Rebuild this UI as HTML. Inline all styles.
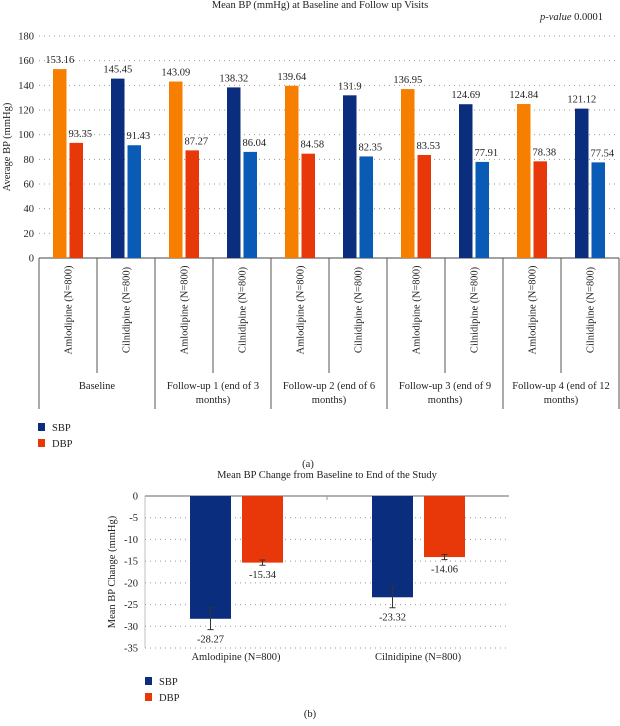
<!DOCTYPE html>
<html><head><meta charset="utf-8">
<style>
html,body{margin:0;padding:0;background:#fff;}
body{width:620px;height:721px;overflow:hidden;font-family:"Liberation Serif",serif;}
svg text{font-family:"Liberation Serif",serif;fill:#222;}
</style></head>
<body>
<svg id="chart" width="620" height="721" viewBox="0 0 620 721" xmlns="http://www.w3.org/2000/svg">
<text x="320" y="8" font-size="10.5" text-anchor="middle">Mean BP (mmHg) at Baseline and Follow up Visits</text>
<text x="540" y="20" font-size="10.5"><tspan font-style="italic">p-value</tspan> 0.0001</text>
<g id="ga"></g>
<g id="gb"></g>
<text x="308" y="467" font-size="10.5" text-anchor="middle">(a)</text>
<text x="310" y="717" font-size="10.5" text-anchor="middle">(b)</text>
</svg>
<script>
// ---- Chart A data ----
const visits = ["Baseline", "Follow-up 1 (end of 3|months)", "Follow-up 2 (end of 6|months)", "Follow-up 3 (end of 9|months)", "Follow-up 4 (end of 12|months)"];
const drugs = ["Amlodipine (N=800)", "Cilnidipine (N=800)"];
const amloSBP = [153.16, 143.09, 139.64, 136.95, 124.84];
const amloDBP = [93.35, 87.27, 84.58, 83.53, 78.38];
const cilSBP = [145.45, 138.32, 131.9, 124.69, 121.12];
const cilDBP = [91.43, 86.04, 82.35, 77.91, 77.54];
const yTicksA = [0, 20, 40, 60, 80, 100, 120, 140, 160, 180];
// ---- Chart B data ----
const bCats = ["Amlodipine (N=800)", "Cilnidipine (N=800)"];
const bSBP = [-28.27, -23.32];
const bDBP = [-15.34, -14.06];
const bSBPerr = [2.5, 2.4];
const bDBPerr = [0.6, 0.6];
const yTicksB = [0, -5, -10, -15, -20, -25, -30, -35];

const NS = "http://www.w3.org/2000/svg";
function mk(parent, tag, attrs, txt) {
  const e = document.createElementNS(NS, tag);
  for (const k in attrs) e.setAttribute(k, attrs[k]);
  if (txt !== undefined) e.textContent = txt;
  parent.appendChild(e);
  return e;
}
const ga = document.getElementById("ga");
const gb = document.getElementById("gb");

const aLeft = 39, aRight = 619, aTop = 36, aBottom = 258;
const yA = v => aBottom - (v - 0) / 180 * (aBottom - aTop);
const groupW = (aRight - aLeft) / visits.length;
const subW = groupW / 2;

yTicksA.forEach(t => {
  if (t > 0) {
    const gl = mk(ga, "line", {x1: aLeft, x2: aRight, y1: yA(t), y2: yA(t), stroke: "#999", "stroke-width": 1, "stroke-dasharray": "1 4"});
    
    
  }
  const tl = mk(ga, "text", {x: aLeft - 5, y: yA(t) + 3.5, "font-size": 10.5, "text-anchor": "end"}, String(t));
  
  
});
const ax = mk(ga, "line", {x1: aLeft, x2: aRight, y1: aBottom, y2: aBottom, stroke: "#444", "stroke-width": 1});


const ya = mk(ga, "text", {x: 0, y: 0, "font-size": 10.5, "text-anchor": "middle", transform: "translate(10," + ((aTop + aBottom) / 2) + ") rotate(-90)"}, "Average BP (mmHg)");



const colors = [["#f77f00", "#e8380a"], ["#0b2d7d", "#0a5bb5"]];
const series = [[amloSBP, amloDBP], [cilSBP, cilDBP]];
const bw = 13.5;
visits.forEach((v, i) => {
  const gx = aLeft + i * groupW;
  const gd = mk(ga, "line", {x1: gx, x2: gx, y1: aBottom, y2: 409, stroke: "#555", "stroke-width": 1});
  
  
  const sd = mk(ga, "line", {x1: gx + subW, x2: gx + subW, y1: aBottom, y2: 373, stroke: "#555", "stroke-width": 1});
  
  
  const lines = v.split("|");
  lines.forEach((ln, k) => {
    const gt = mk(ga, "text", {x: gx + groupW / 2, y: 389 + k * 14, "font-size": 10.5, "text-anchor": "middle"}, ln);
    
    
  });
  drugs.forEach((d, j) => {
    const cx = gx + j * subW + subW / 2;
    const dt = mk(ga, "text", {x: 0, y: 0, "font-size": 10.5, "text-anchor": "middle", transform: "translate(" + (cx + 3.5) + ",310) rotate(-90)"}, d);
    
    
    [0, 1].forEach(s => {
      const val = series[j][s][i];
      const x = cx - 15 + s * 16.5;
      const r = mk(ga, "rect", {x: x, y: yA(val), width: bw, height: aBottom - yA(val), fill: colors[j][s]});
      
      
      const lt = mk(ga, "text", {x: x + bw / 2 + (s ? 4 : 0), y: yA(val) - 6, "font-size": 10.5, "text-anchor": "middle"}, String(val));
      
      
    });
  });
});
const gdEnd = mk(ga, "line", {x1: aRight, x2: aRight, y1: aBottom, y2: 409, stroke: "#555", "stroke-width": 1});



function legend(g, x, y, name) {
  [["SBP", "#0b2d7d"], ["DBP", "#e8380a"]].forEach((l, k) => {
    const r = mk(g, "rect", {x: x, y: y + k * 16 - 4, width: 7, height: 8, fill: l[1]});
    
    
    const t = mk(g, "text", {x: x + 14, y: y + k * 16 + 4, "font-size": 10.5}, l[0]);
    
    
  });
}
legend(ga, 38, 427, 'legend-a');

const bLeft = 145, bRight = 509, bTop = 496, bBottom = 648;
const yB = v => bTop + (0 - v) / 35 * (bBottom - bTop);
const bGroupW = (bRight - bLeft) / bCats.length;
const tb = mk(gb, "text", {x: 327, y: 478, "font-size": 10.5, "text-anchor": "middle"}, "Mean BP Change from Baseline to End of the Study");


yTicksB.forEach(t => {
  if (t < 0) {
    const gl = mk(gb, "line", {x1: bLeft, x2: bRight, y1: yB(t), y2: yB(t), stroke: "#999", "stroke-width": 1, "stroke-dasharray": "1 4"});
    
    
  }
  const tl = mk(gb, "text", {x: bLeft - 7, y: yB(t) + 3.5, "font-size": 10.5, "text-anchor": "end"}, String(t));
  
  
});
const axb = mk(gb, "line", {x1: bLeft, x2: bRight, y1: bTop, y2: bTop, stroke: "#666", "stroke-width": 1});


const axbl = mk(gb, "line", {x1: bLeft, x2: bLeft, y1: bTop, y2: bBottom, stroke: "#999", "stroke-width": 0.6});


const ytb = mk(gb, "text", {x: 0, y: 0, "font-size": 10.5, "text-anchor": "middle", transform: "translate(115," + ((bTop + bBottom) / 2) + ") rotate(-90)"}, "Mean BP Change (mmHg)");


const midDiv = mk(gb, "line", {x1: bLeft + bGroupW, x2: bLeft + bGroupW, y1: bTop, y2: bTop + 4, stroke: "#999"});


const bbw = 41;
bCats.forEach((c, i) => {
  const gx = bLeft + i * bGroupW;
  const ct = mk(gb, "text", {x: gx + bGroupW / 2, y: 660, "font-size": 10.5, "text-anchor": "middle"}, c);
  
  
  [[bSBP, bSBPerr, "#0b2d7d", "sbp"], [bDBP, bDBPerr, "#e8380a", "dbp"]].forEach((s, k) => {
    const v = s[0][i], e = s[1][i];
    const x = gx + 45 + k * 52;
    const r = mk(gb, "rect", {x: x, y: bTop, width: bbw, height: yB(v) - bTop, fill: s[2]});
    
    
    const cx = x + bbw / 2;
    const y1 = yB(v + e), y2 = yB(v - e);
    const eb = mk(gb, "path", {d: "M" + cx + "," + y1 + "V" + y2 + "M" + (cx - 3) + "," + y1 + "H" + (cx + 3) + "M" + (cx - 3) + "," + y2 + "H" + (cx + 3), stroke: "#333", "stroke-width": 1, fill: "none"});
    
    
    const lt = mk(gb, "text", {x: cx, y: y2 + 13, "font-size": 10.5, "text-anchor": "middle"}, String(v));
    
    
  });
});
legend(gb, 145, 681, 'legend-b');
</script>
</body></html>
